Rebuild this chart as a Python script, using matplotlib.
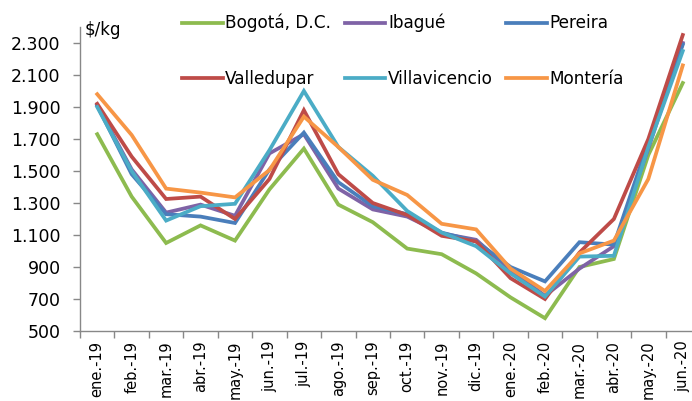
import matplotlib
matplotlib.use("Agg")
import matplotlib.pyplot as plt
from matplotlib.ticker import FixedLocator, FuncFormatter

months = ["ene.-19", "feb.-19", "mar.-19", "abr.-19", "may.-19", "jun.-19",
          "jul.-19", "ago.-19", "sep.-19", "oct.-19", "nov.-19", "dic.-19",
          "ene.-20", "feb.-20", "mar.-20", "abr.-20", "may.-20", "jun.-20"]

bogota = [1730, 1340, 1050, 1160, 1065, 1385, 1640, 1290, 1180, 1015, 980, 860, 710, 580, 900, 950, 1600, 2050]
ibague = [1910, 1510, 1240, 1290, 1220, 1610, 1730, 1390, 1260, 1215, 1110, 1070, 880, 720, 890, 1030, 1640, 2300]
pereira = [1910, 1480, 1230, 1215, 1175, 1510, 1740, 1430, 1280, 1230, 1115, 1060, 900, 810, 1055, 1040, 1680, 2290]
valledupar = [1920, 1590, 1325, 1340, 1200, 1450, 1880, 1480, 1300, 1225, 1095, 1060, 830, 700, 990, 1200, 1700, 2350]
villavicencio = [1900, 1500, 1190, 1280, 1295, 1630, 2000, 1650, 1470, 1250, 1115, 1030, 860, 715, 965, 970, 1650, 2250]
monteria = [1980, 1725, 1390, 1365, 1335, 1506, 1840, 1650, 1445, 1350, 1170, 1135, 890, 750, 985, 1065, 1450, 2160]

series = [
    ("Bogotá, D.C.", bogota, "#8DBB4F"),
    ("Ibagué", ibague, "#7F63A6"),
    ("Pereira", pereira, "#4A7EBB"),
    ("Valledupar", valledupar, "#BE4B48"),
    ("Villavicencio", villavicencio, "#4BACC6"),
    ("Montería", monteria, "#F79646"),
]

plt.rcParams['font.family'] = ['DejaVu Sans']

fig = plt.figure(figsize=(6.92, 4.01), dpi=100)
ax = fig.add_axes([80/692, 70/401, 620/692, 304/401])

x = list(range(len(months)))
handles = []
for name, vals, col in series:
    h, = ax.plot(x, vals, color=col, lw=2.7, label=name, solid_joinstyle='miter')
    handles.append(h)

ax.set_xlim(-0.5, len(months) - 0.5)
ax.set_ylim(500, 2400)
ax.set_yticks(list(range(500, 2301, 200)))
ax.yaxis.set_major_formatter(FuncFormatter(lambda v, p: f"{int(v):,}".replace(",", ".")))
ax.set_xticks(x)
ax.set_xticklabels(months, rotation=90, fontsize=10.5)
ax.xaxis.set_minor_locator(FixedLocator([i - 0.5 for i in range(len(months) + 1)]))
ax.tick_params(axis='x', which='major', length=0, pad=7)
ax.tick_params(axis='x', which='minor', length=5, color='#888888', width=1)
ax.tick_params(axis='y', length=5, color='#888888', width=1, labelsize=12.5, pad=9)

for s in ['top', 'right']:
    ax.spines[s].set_visible(False)
for s in ['left', 'bottom']:
    ax.spines[s].set_color('#888888')
    ax.spines[s].set_linewidth(1)

fig.text(85/692, 1 - 30/401, "$/kg", fontsize=12, va='center', ha='left')

# legend filled row-wise: reorder for column-major filling
order = [0, 3, 1, 4, 2, 5]
ax.legend([handles[i] for i in order], [series[i][0] for i in order],
          loc='upper left', bbox_to_anchor=(182/692, 1 - 14/401),
          bbox_transform=fig.transFigure, ncol=3, frameon=False,
          fontsize=12.2, handlelength=2.4, handletextpad=0.15,
          columnspacing=0.8, labelspacing=2.2, borderaxespad=0, borderpad=0)

fig.savefig("out.png", dpi=100)
